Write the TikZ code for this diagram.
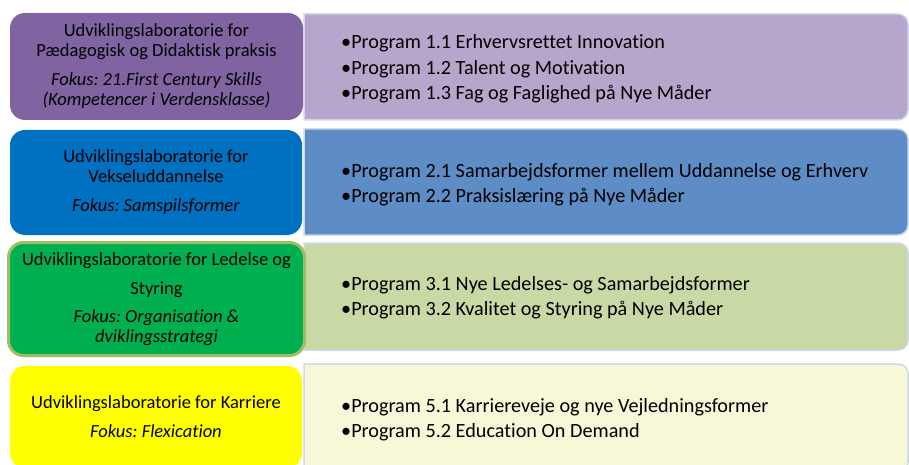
\documentclass[tikz,border=0pt]{standalone}
\usepackage{fontspec}
\setmainfont{Carlito}[Ligatures=CommonOff]
\frenchspacing
\definecolor{labpurple}{HTML}{8064A2}
\definecolor{progpurple}{HTML}{B7A6CB}
\definecolor{labblue}{HTML}{0070C0}
\definecolor{progblue}{HTML}{5E8DC6}
\definecolor{labgreen}{HTML}{00B050}
\definecolor{greenrim}{HTML}{A0BD63}
\definecolor{proggreen}{HTML}{C9D9A5}
\definecolor{labyellow}{HTML}{FFFF00}
\definecolor{progyellow}{HTML}{F7F8D8}
\definecolor{progrim}{HTML}{CFD8E9}
\tikzset{
  labbox/.style={rounded corners=15pt, inner sep=0pt, align=center,
    font=\fontsize{18.5}{20}\selectfont, text=black},
  progbox/.style={draw=progrim, line width=1.5pt},
  progtext/.style={anchor=west, inner sep=0pt, align=left,
    font=\fontsize{20.2}{25.5}\selectfont, text=black}
}
\begin{document}
\begin{tikzpicture}[x=1pt,y=1pt]
  \useasboundingbox (0,0) rectangle (909,464);
  \clip (0,0) rectangle (909,464);
  % right-hand boxes
  \draw[progbox,fill=progpurple] (304,344) -- (898,344) arc[start angle=-90,end angle=0,radius=10]
    -- (908,440) arc[start angle=0,end angle=90,radius=10] -- (304,450) -- cycle;
  \draw[progbox,fill=progblue] (304,229) -- (898,229) arc[start angle=-90,end angle=0,radius=10]
    -- (908,325) arc[start angle=0,end angle=90,radius=10] -- (304,335) -- cycle;
  \draw[progbox,fill=proggreen] (304,114) -- (898,114) arc[start angle=-90,end angle=0,radius=10]
    -- (908,211) arc[start angle=0,end angle=90,radius=10] -- (304,221) -- cycle;
  \draw[progbox,fill=progyellow] (304,-8) -- (898,-8) arc[start angle=-90,end angle=0,radius=10]
    -- (908,90) arc[start angle=0,end angle=90,radius=10] -- (304,100) -- cycle;
  % left-hand boxes
  \node[labbox, fill=labpurple, minimum width=293, minimum height=107] (lab1) at (156.5,397.5)
    {Udviklingslaboratorie for\\Pædagogisk og Didaktisk praksis\\[9pt]
     \textit{Fokus: 21.First Century Skills}\\\textit{(Kompetencer i Verdensklasse)}};
  \node[labbox, fill=labblue, minimum width=292, minimum height=105] (lab2) at (156,281.5)
    {Udviklingslaboratorie for\\Vekseluddannelse\\[9pt]\textit{Fokus: Samspilsformer}};
  \node[labbox, fill=labgreen, draw=greenrim, line width=3pt,
    minimum width=296, minimum height=113] (lab3) at (156.5,165)
    {Udviklingslaboratorie for Ledelse og\\[9pt]Styring\\[8pt]
     \textit{Fokus: Organisation \&}\\\textit{dviklingsstrategi}};
  \node[labbox, fill=labyellow, minimum width=292, minimum height=102] (lab4) at (156,47)
    {Udviklingslaboratorie for Karriere\\[9pt]\textit{Fokus: Flexication}};
  % programme lists
  \node[progtext] (prog1) at (341,395)
    {\textbullet Program 1.1 Erhvervsrettet Innovation\\
     \textbullet Program 1.2 Talent og Motivation\\
     \textbullet Program 1.3 Fag og Faglighed på Nye Måder};
  \node[progtext] (prog2) at (341,279.5)
    {\textbullet Program 2.1 Samarbejdsformer mellem Uddannelse og Erhverv\\
     \textbullet Program 2.2 Praksislæring på Nye Måder};
  \node[progtext] (prog3) at (341,166.5)
    {\textbullet Program 3.1 Nye Ledelses- og Samarbejdsformer\\
     \textbullet Program 3.2 Kvalitet og Styring på Nye Måder};
  \node[progtext] (prog4) at (341,44.5)
    {\textbullet Program 5.1 Karriereveje og nye Vejledningsformer\\
     \textbullet Program 5.2 Education On Demand};
\end{tikzpicture}
\end{document}
